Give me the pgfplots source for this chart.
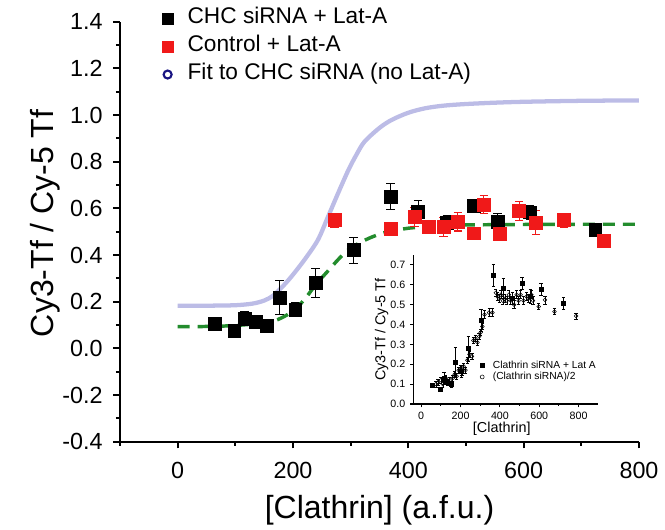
\documentclass[border=0pt]{standalone}
\usepackage{fontspec}
\setmainfont{Liberation Sans}
\usepackage{pgfplots}
\pgfplotsset{compat=1.18}
\definecolor{fitlav}{RGB}{188,188,230}
\definecolor{fitnavy}{RGB}{25,20,130}
\definecolor{fitgreen}{RGB}{35,140,45}
\definecolor{ctrlred}{RGB}{240,25,25}

\begin{document}
\begin{tikzpicture}
\path[use as bounding box] (-90pt,-66.2pt) rectangle (408.75pt,331.3pt);

% main axis
\begin{axis}[
    at={(0pt,0pt)}, anchor=south west,
    scale only axis, width=389.25pt, height=315pt,
    xmin=-100, xmax=800, ymin=-0.4, ymax=1.4,
    axis x line=bottom, axis y line=left,
    axis line style={-, line width=1.6pt},
    tick align=outside,
    major tick length=5pt, minor tick length=3pt,
    every tick/.style={black, line width=1.4pt},
    xtick={0,200,400,600,800},
    minor xtick={-100,100,300,500,700},
    ytick={-0.4,-0.2,0,0.2,0.4,0.6,0.8,1.0,1.2,1.4},
    minor ytick={-0.3,-0.1,0.1,0.3,0.5,0.7,0.9,1.1,1.3},
    /pgf/number format/assume math mode=true,
    ticklabel style={font=\fontsize{17.5}{20}\selectfont},
    xticklabel shift=7pt,
    yticklabel style={xshift=-4.5pt, /pgf/number format/fixed, /pgf/number format/fixed zerofill, /pgf/number format/precision=1},
    xlabel={[Clathrin] (a.f.u.)},
    ylabel={Cy3-Tf / Cy-5 Tf},
    label style={font=\fontsize{24}{28}\selectfont},
    xlabel style={at={(axis description cs:0.5,-0.162)}, anchor=center},
    ylabel style={at={(axis description cs:-0.144,0.52)}, anchor=center},
    legend style={at={(0.081,1.04)}, anchor=north west, draw=none, fill=none,
        font=\fontsize{17}{20}\selectfont, inner sep=0pt, row sep=1pt,
        nodes={text height=12pt, text depth=4pt, inner sep=2pt},
        /tikz/every odd column/.append style={column sep=9pt}},
    legend cell align=left,
]
\addlegendimage{only marks, mark=square*, mark size=4pt, black}
\addlegendentry{CHC siRNA + Lat-A}
\addlegendimage{only marks, mark=square*, mark size=4pt, ctrlred}
\addlegendentry{Control + Lat-A}
\addlegendimage{only marks, mark=o, mark size=3pt, mark options={fitnavy, line width=1.6pt}}
\addlegendentry{Fit to CHC siRNA (no Lat-A)}

% fit to CHC siRNA (no Lat-A)
\addplot[fitlav, line width=3.2pt, smooth, forget plot] coordinates {
    (0,0.183) (50,0.183) (100,0.185) (130,0.192) (150,0.205) (165,0.225)
    (180,0.26) (197,0.307) (220,0.38) (243,0.464) (260,0.56) (278,0.664)
    (296,0.764) (310,0.83) (324,0.886) (350,0.945) (371,0.979) (400,1.01)
    (429,1.029) (460,1.04) (498,1.047) (550,1.053) (603,1.057) (700,1.061)
    (810,1.063)
};

% CHC siRNA + Lat-A
\addplot[only marks, mark=square*, mark size=4.8pt, black, forget plot,
    error bars/.cd, y dir=both, y explicit,
    error bar style={line width=0.8pt, black},
    error mark options={rotate=90, mark size=3.2pt, line width=0.8pt, black}]
coordinates {
    (64,0.104) +- (0,0.01)
    (98,0.074) +- (0,0.01)
    (116,0.128) +- (0,0.03)
    (135,0.114) +- (0,0.01)
    (154,0.097) +- (0,0.01)
    (177,0.217) +- (0,0.073)
    (204,0.167) +- (0,0.03)
    (239,0.281) +- (0,0.063)
    (305,0.421) +- (0,0.056)
    (369,0.650) +- (0,0.055)
    (417,0.585) +- (0,0.05)
    (467,0.538) +- (0,0.03)
    (513,0.610) +- (0,0.025)
    (555,0.543) +- (0,0.035)
    (611,0.583) +- (0,0.03)
    (724,0.507) +- (0,0.025)
};

% fit to CHC siRNA + Lat-A
\addplot[fitgreen, line width=2.6pt, dash pattern=on 9pt off 6pt, smooth, forget plot] coordinates {
    (0,0.093) (50,0.094) (100,0.098) (150,0.11) (175,0.125) (200,0.16)
    (220,0.21) (240,0.275) (260,0.33) (280,0.385) (300,0.43) (330,0.47)
    (360,0.497) (400,0.515) (450,0.525) (500,0.529) (600,0.531) (700,0.532)
    (800,0.532)
};

% Control + Lat-A
\addplot[only marks, mark=square*, mark size=4.8pt, ctrlred, forget plot,
    error bars/.cd, y dir=both, y explicit,
    error bar style={line width=0.8pt, ctrlred},
    error mark options={rotate=90, mark size=3.2pt, line width=0.8pt, ctrlred}]
coordinates {
    (272,0.55) +- (0,0.03)
    (370,0.514) +- (0,0.02)
    (411,0.564) +- (0,0.04)
    (435,0.521) +- (0,0.02)
    (461,0.521) +- (0,0.04)
    (486,0.543) +- (0,0.04)
    (513,0.493) +- (0,0.02)
    (531,0.617) +- (0,0.04)
    (559,0.49) +- (0,0.02)
    (592,0.59) +- (0,0.04)
    (621,0.54) +- (0,0.05)
    (670,0.55) +- (0,0.03)
    (739,0.46) +- (0,0.02)
};
\end{axis}

% inset
\begin{axis}[
    at={(220pt,28.3pt)}, anchor=south west,
    scale only axis, width=138.75pt, height=111.75pt,
    xmin=-40, xmax=900, ymin=0, ymax=0.75,
    axis x line=bottom, axis y line=left,
    axis line style={-, line width=0.9pt},
    tick align=outside,
    major tick length=2.5pt, minor tick length=1.5pt,
    every tick/.style={black, line width=0.8pt},
    xtick={0,200,400,600,800},
    minor xtick={100,300,500,700},
    ytick={0,0.1,0.2,0.3,0.4,0.5,0.6,0.7},
    /pgf/number format/assume math mode=true,
    ticklabel style={font=\fontsize{8}{9}\selectfont},
    yticklabel style={/pgf/number format/fixed, /pgf/number format/fixed zerofill, /pgf/number format/precision=1},
    xlabel={[Clathrin]},
    ylabel={Cy3-Tf / Cy-5 Tf},
    label style={font=\fontsize{10.8}{12}\selectfont},
    xlabel style={at={(axis description cs:0.478,-0.165)}, anchor=center},
    ylabel style={at={(axis description cs:-0.171,0.5)}, anchor=center},
    legend style={at={(0.36,0.30)}, anchor=north west, draw=none, fill=none,
        font=\fontsize{7.7}{9}\selectfont, inner sep=0pt, row sep=0pt,
        nodes={text height=6pt, text depth=1.7pt, inner sep=0.5pt},
        /tikz/every odd column/.append style={column sep=6pt}},
    legend cell align=left,
    legend image code/.code={\draw[mark repeat=2,mark phase=2,#1] plot coordinates {(0cm,0cm) (0.15cm,0cm) (0.3cm,0cm)};},
]
\addlegendimage{only marks, mark=square*, mark size=1.5pt, black}
\addlegendentry{Clathrin siRNA + Lat A}
\addlegendimage{only marks, mark=o, mark size=1.5pt, black}
\addlegendentry{(Clathrin siRNA)/2}

% (Clathrin siRNA)/2
\addplot[only marks, mark=o, mark size=1.4pt, black, forget plot,
    error bars/.cd, y dir=both, y explicit,
    error bar style={line width=0.4pt, black},
    error mark options={rotate=90, mark size=1.2pt, line width=0.4pt, black}]
coordinates {
    (75,0.10) +- (0,0.015) (85,0.11) +- (0,0.015) (100,0.12) +- (0,0.015)
    (110,0.10) +- (0,0.015) (125,0.13) +- (0,0.015) (135,0.11) +- (0,0.015)
    (145,0.12) +- (0,0.015) (155,0.10) +- (0,0.015) (160,0.13) +- (0,0.015)
    (170,0.15) +- (0,0.015) (180,0.14) +- (0,0.015) (190,0.17) +- (0,0.015)
    (200,0.18) +- (0,0.015) (207,0.16) +- (0,0.015) (215,0.19) +- (0,0.015)
    (225,0.17) +- (0,0.015) (235,0.22) +- (0,0.015) (245,0.25) +- (0,0.015)
    (258,0.24) +- (0,0.015) (265,0.32) +- (0,0.015) (275,0.33) +- (0,0.015)
    (286,0.31) +- (0,0.015) (294,0.34) +- (0,0.015) (302,0.36) +- (0,0.015)
    (311,0.39) +- (0,0.015) (322,0.45) +- (0,0.02) (345,0.46) +- (0,0.02)
    (362,0.46) +- (0,0.02) (379,0.56) +- (0,0.02) (388,0.54) +- (0,0.02)
    (396,0.53) +- (0,0.02) (405,0.55) +- (0,0.02) (415,0.52) +- (0,0.02)
    (425,0.53) +- (0,0.02) (435,0.52) +- (0,0.02) (445,0.55) +- (0,0.02)
    (455,0.52) +- (0,0.02) (472,0.50) +- (0,0.02) (485,0.55) +- (0,0.02)
    (495,0.52) +- (0,0.02) (505,0.55) +- (0,0.02) (520,0.52) +- (0,0.02)
    (535,0.54) +- (0,0.02) (545,0.53) +- (0,0.02) (560,0.55) +- (0,0.02)
    (568,0.52) +- (0,0.02) (597,0.49) +- (0,0.015) (629,0.524) +- (0,0.02)
    (677,0.465) +- (0,0.015) (787,0.443) +- (0,0.015)
};

% Clathrin siRNA + Lat A
\addplot[only marks, mark=square*, mark size=1.5pt, black, forget plot,
    error bars/.cd, y dir=both, y explicit,
    error bar style={line width=0.5pt, black},
    error mark options={rotate=90, mark size=1.3pt, line width=0.5pt, black}]
coordinates {
    (57,0.095) +- (0,0.01)
    (97,0.075) +- (0,0.01)
    (115,0.13) +- (0,0.03)
    (133,0.11) +- (0,0.01)
    (152,0.10) +- (0,0.01)
    (175,0.21) +- (0,0.075)
    (205,0.165) +- (0,0.03)
    (240,0.28) +- (0,0.063)
    (305,0.42) +- (0,0.056)
    (367,0.648) +- (0,0.055)
    (417,0.582) +- (0,0.05)
    (465,0.53) +- (0,0.03)
    (512,0.607) +- (0,0.03)
    (555,0.54) +- (0,0.035)
    (608,0.577) +- (0,0.03)
    (724,0.505) +- (0,0.03)
};
\end{axis}
\end{tikzpicture}
\end{document}
